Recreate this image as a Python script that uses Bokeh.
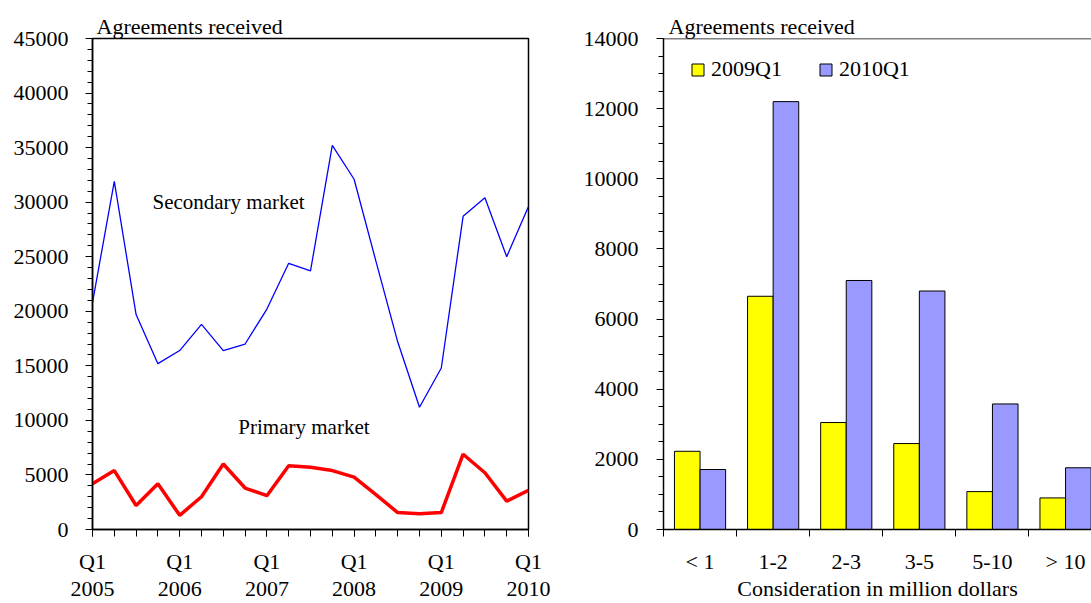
import numpy as np
from bokeh.plotting import figure
from bokeh.models import (Range1d, FixedTicker, LinearAxis, Label, Span, Legend,
                          LegendItem, NumeralTickFormatter, ColumnDataSource)
from bokeh.layouts import row
from bokeh.embed import file_html
from bokeh.resources import INLINE

FONT = "Liberation Serif"

# ---------------- data ----------------
# quarterly, 2005Q1 .. 2010Q1
quarter_index = list(range(21))
year_labels = ["2005", "2006", "2007", "2008", "2009", "2010"]
secondary_market = [20800, 31900, 19700, 15200, 16400, 18800, 16400, 17000, 20200, 24400,
                    23700, 35200, 32100, 24600, 17200, 11200, 14800, 28700, 30400, 25000, 29600]
primary_market = [4200, 5400, 2200, 4200, 1300, 3000, 6000, 3800, 3100, 5850,
                  5700, 5400, 4800, 3200, 1550, 1450, 1550, 6900, 5200, 2600, 3600]

categories = ["< 1", "1-2", "2-3", "3-5", "5-10", "> 10"]
q2009 = [2230, 6650, 3050, 2450, 1080, 900]
q2010 = [1710, 12200, 7100, 6800, 3580, 1760]


def style_axis(ax, size="22px"):
    ax.major_label_text_font = FONT
    ax.major_label_text_font_size = size
    ax.major_label_text_color = "black"
    ax.axis_line_color = "black"
    ax.axis_line_width = 1.5
    ax.major_tick_line_color = "black"
    ax.minor_tick_line_color = "black"
    ax.major_tick_in = 0
    ax.minor_tick_in = 0


def style_title(p, offset):
    p.title.text_font = FONT
    p.title.text_font_size = "22px"
    p.title.text_font_style = "normal"
    p.title.text_color = "black"
    p.title.align = "left"
    p.title.offset = offset
    p.title.standoff = 0


# ---------------- left: line chart ----------------
p1 = figure(width=554, height=603, x_range=Range1d(0, 20), y_range=Range1d(0, 45000),
            output_backend="svg", toolbar_location=None, title="Agreements received",
            min_border_left=92, min_border_right=26, min_border_top=38, min_border_bottom=73)
style_title(p1, 4)
p1.xgrid.visible = False
p1.ygrid.visible = False
p1.outline_line_color = "black"
p1.outline_line_width = 1.5

q1_ticks = [4 * i for i in range(len(year_labels))]

xa = p1.xaxis[0]
xa.ticker = FixedTicker(ticks=q1_ticks, minor_ticks=quarter_index)
xa.major_label_overrides = {t: "Q1" for t in q1_ticks}
style_axis(xa)
xa.major_tick_out = 7
xa.minor_tick_out = 7
xa.major_label_standoff = 12

xa2 = LinearAxis(ticker=FixedTicker(ticks=q1_ticks, minor_ticks=[]),
                 major_label_overrides={t: y for t, y in zip(q1_ticks, year_labels)})
style_axis(xa2)
xa2.axis_line_color = None
xa2.major_tick_line_color = None
xa2.minor_tick_line_color = None
xa2.major_tick_out = 0
xa2.minor_tick_out = 0
xa2.major_label_standoff = 5
p1.add_layout(xa2, "below")

ya = p1.yaxis[0]
ya.ticker = FixedTicker(ticks=list(range(0, 45001, 5000)), minor_ticks=list(range(0, 45001, 1000)))
ya.formatter = NumeralTickFormatter(format="0")
style_axis(ya)
ya.major_tick_out = 7
ya.minor_tick_out = 5
ya.major_label_standoff = 17

p1.line(quarter_index, secondary_market, line_color="#0000FF", line_width=1.3)
p1.line(quarter_index, primary_market, line_color="#FF0000", line_width=3.5)

p1.add_layout(Label(x=2.75, y=30060, text="Secondary market", text_font=FONT,
                    text_font_size="21px", text_baseline="middle", text_align="left",
                    text_color="black"))
p1.add_layout(Label(x=6.69, y=9350, text="Primary market", text_font=FONT,
                    text_font_size="21px", text_baseline="middle", text_align="left",
                    text_color="black"))

# ---------------- right: grouped bars ----------------
xs = np.arange(1, len(categories) + 1)
p2 = figure(width=537, height=603, x_range=Range1d(0.5, 6.355), y_range=Range1d(0, 14000),
            output_backend="svg", toolbar_location=None, title="Agreements received",
            min_border_left=109, min_border_right=0, min_border_top=38, min_border_bottom=73)
style_title(p2, 5)
p2.xgrid.visible = False
p2.ygrid.visible = False
p2.outline_line_color = None

src = ColumnDataSource(dict(x09=xs - 0.175, x10=xs + 0.175, q2009=q2009, q2010=q2010))
r1 = p2.vbar(x="x09", top="q2009", width=0.35, fill_color="#FFFF00", line_color="black",
             line_width=1, source=src)
r2 = p2.vbar(x="x10", top="q2010", width=0.35, fill_color="#9999FF", line_color="black",
             line_width=1, source=src)

p2.add_layout(Span(location=14000, dimension="width", line_color="black", line_width=1.5))

xb = p2.xaxis[0]
boundaries = [float(x) - 0.5 for x in xs] + [float(xs[-1]) + 0.5]
xb.ticker = FixedTicker(ticks=[int(x) for x in xs], minor_ticks=boundaries)
xb.major_label_overrides = {int(x): c for x, c in zip(xs, categories)}
style_axis(xb)
xb.major_tick_out = 0
xb.major_tick_line_color = None
xb.minor_tick_out = 7
xb.major_label_standoff = 12
xb.axis_label = "Consideration in million dollars"
xb.axis_label_text_font = FONT
xb.axis_label_text_font_size = "22px"
xb.axis_label_text_font_style = "normal"
xb.axis_label_text_color = "black"
xb.axis_label_standoff = -1

yb = p2.yaxis[0]
yb.ticker = FixedTicker(ticks=list(range(0, 14001, 2000)), minor_ticks=list(range(0, 14001, 500)))
yb.formatter = NumeralTickFormatter(format="0")
style_axis(yb)
yb.major_tick_out = 7
yb.minor_tick_out = 5
yb.major_label_standoff = 18

legend = Legend(items=[LegendItem(label="2009Q1", renderers=[r1]),
                       LegendItem(label="2010Q1", renderers=[r2])],
                location=(27, 447), orientation="horizontal")
legend.border_line_color = None
legend.background_fill_alpha = 0
legend.label_text_font = FONT
legend.label_text_font_size = "22px"
legend.label_text_color = "black"
legend.glyph_width = 15
legend.glyph_height = 15
legend.label_standoff = 6
legend.spacing = 36
legend.padding = 0
legend.margin = 0
p2.add_layout(legend)

layout = row(p1, p2)
open("out.html", "w").write(file_html(layout, INLINE))
